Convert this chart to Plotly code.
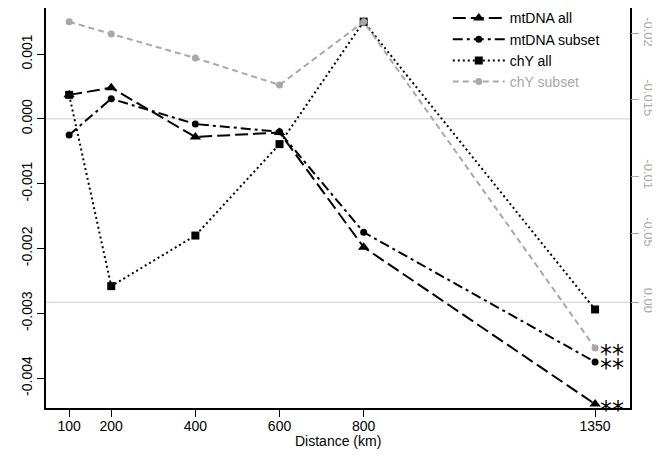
import plotly.graph_objects as go

distance = [100, 200, 400, 600, 800, 1350]
x_ticks = [100, 200, 400, 600, 800, 1350]

mtdna_all = [0.00037, 0.00048, -0.00028, -0.00021, -0.00198, -0.00440]
mtdna_subset = [-0.00025, 0.00031, -0.00008, -0.00020, -0.00175, -0.00375]
chy_all = [0.00037, -0.00258, -0.00180, -0.00039, 0.00150, -0.00294]
chy_subset = [-0.0209, -0.0200, -0.0182, -0.0162, -0.0209, 0.0034]

left_ticks = [0.001, 0.0, -0.001, -0.002, -0.003, -0.004]
left_labels = ["0.001", "0.000", "-0.001", "-0.002", "-0.003", "-0.004"]
# right-axis ticks sit where the reference draws them (slightly uneven)
right_ticks = [-0.0200, -0.0151, -0.0094, -0.0051, 0.0]
right_labels = ["-0.02", "-0.015", "-0.01", "-0.05", "0.00"]

GRAY = "#a8a8a8"
FONT = "Liberation Sans, Arial, sans-serif"

fig = go.Figure()
fig.add_trace(go.Scatter(
    x=distance, y=mtdna_all, name="mtDNA all", mode="lines+markers",
    line=dict(color="black", width=2, dash="13px,5px"),
    marker=dict(symbol="triangle-up", size=10, color="black")))
fig.add_trace(go.Scatter(
    x=distance, y=mtdna_subset, name="mtDNA subset", mode="lines+markers",
    line=dict(color="black", width=2, dash="10px,4px,3px,4px"),
    marker=dict(symbol="circle", size=7, color="black")))
fig.add_trace(go.Scatter(
    x=distance, y=chy_all, name="chY all", mode="lines+markers",
    line=dict(color="black", width=2, dash="2px,3px"),
    marker=dict(symbol="square", size=8, color="black")))
fig.add_trace(go.Scatter(
    x=distance, y=chy_subset, yaxis="y2",
    name="<span style='color:#a8a8a8'>chY subset</span>", mode="lines+markers",
    line=dict(color=GRAY, width=2, dash="6px,4px"),
    marker=dict(symbol="circle", size=7, color=GRAY)))

# asterisks next to the 1350 points
for yv, yref in [(mtdna_all[-1], "y"), (mtdna_subset[-1], "y"), (chy_subset[-1], "y2")]:
    fig.add_annotation(x=distance[-1], y=yv, xref="x", yref=yref, text="**",
                       showarrow=False, xanchor="left", yanchor="middle",
                       xshift=3, yshift=-6,
                       font=dict(family="DejaVu Sans", size=24, color="#000000"))

fig.add_annotation(x=0.5, y=-0.0825, xref="paper", yref="paper",
                   text="Distance (km)", showarrow=False, yanchor="middle",
                   font=dict(size=14, color="black"))

fig.add_shape(type="line", xref="paper", x0=0, x1=1, yref="y", y0=0, y1=0,
              line=dict(color="#cccccc", width=1), layer="below")
fig.add_shape(type="line", xref="paper", x0=0, x1=1, yref="y2", y0=0, y1=0,
              line=dict(color="#cccccc", width=1), layer="below")

# page body has an 8px margin; size the figure so the plot lands where it should
fig.update_layout(
    width=652, height=449,
    margin=dict(l=38, r=30, t=0, b=49, autoexpand=False),
    plot_bgcolor="white", paper_bgcolor="white",
    font=dict(family=FONT, size=14, color="black"),
    showlegend=True,
    legend=dict(x=0.688, y=1.014, xanchor="left", yanchor="top",
                bgcolor="rgba(0,0,0,0)", font=dict(size=14),
                tracegroupgap=0, itemwidth=52),
    xaxis=dict(range=[45, 1433], tickvals=x_ticks, ticktext=[str(v) for v in x_ticks],
               showline=True, linecolor="black", linewidth=1.5, mirror=True,
               ticks="outside", ticklen=7, tickcolor="black", showgrid=False,
               ticklabelstandoff=-3, automargin=False, zeroline=False),
    yaxis=dict(range=[-0.00446, 0.00171], tickvals=left_ticks, ticktext=left_labels,
               tickangle=-90, showline=True, linecolor="black", linewidth=1.5,
               mirror=True, ticks="outside", ticklen=7, tickcolor="black",
               automargin=False, showgrid=False, zeroline=False),
    yaxis2=dict(range=[0.00788, -0.02193], overlaying="y", side="right",
                tickvals=right_ticks, ticktext=right_labels, tickangle=90,
                tickfont=dict(color=GRAY, size=13), ticks="outside", ticklen=8,
                tickcolor=GRAY, automargin=False, showline=False, showgrid=False,
                zeroline=False),
)

fig.write_html("out.html")
